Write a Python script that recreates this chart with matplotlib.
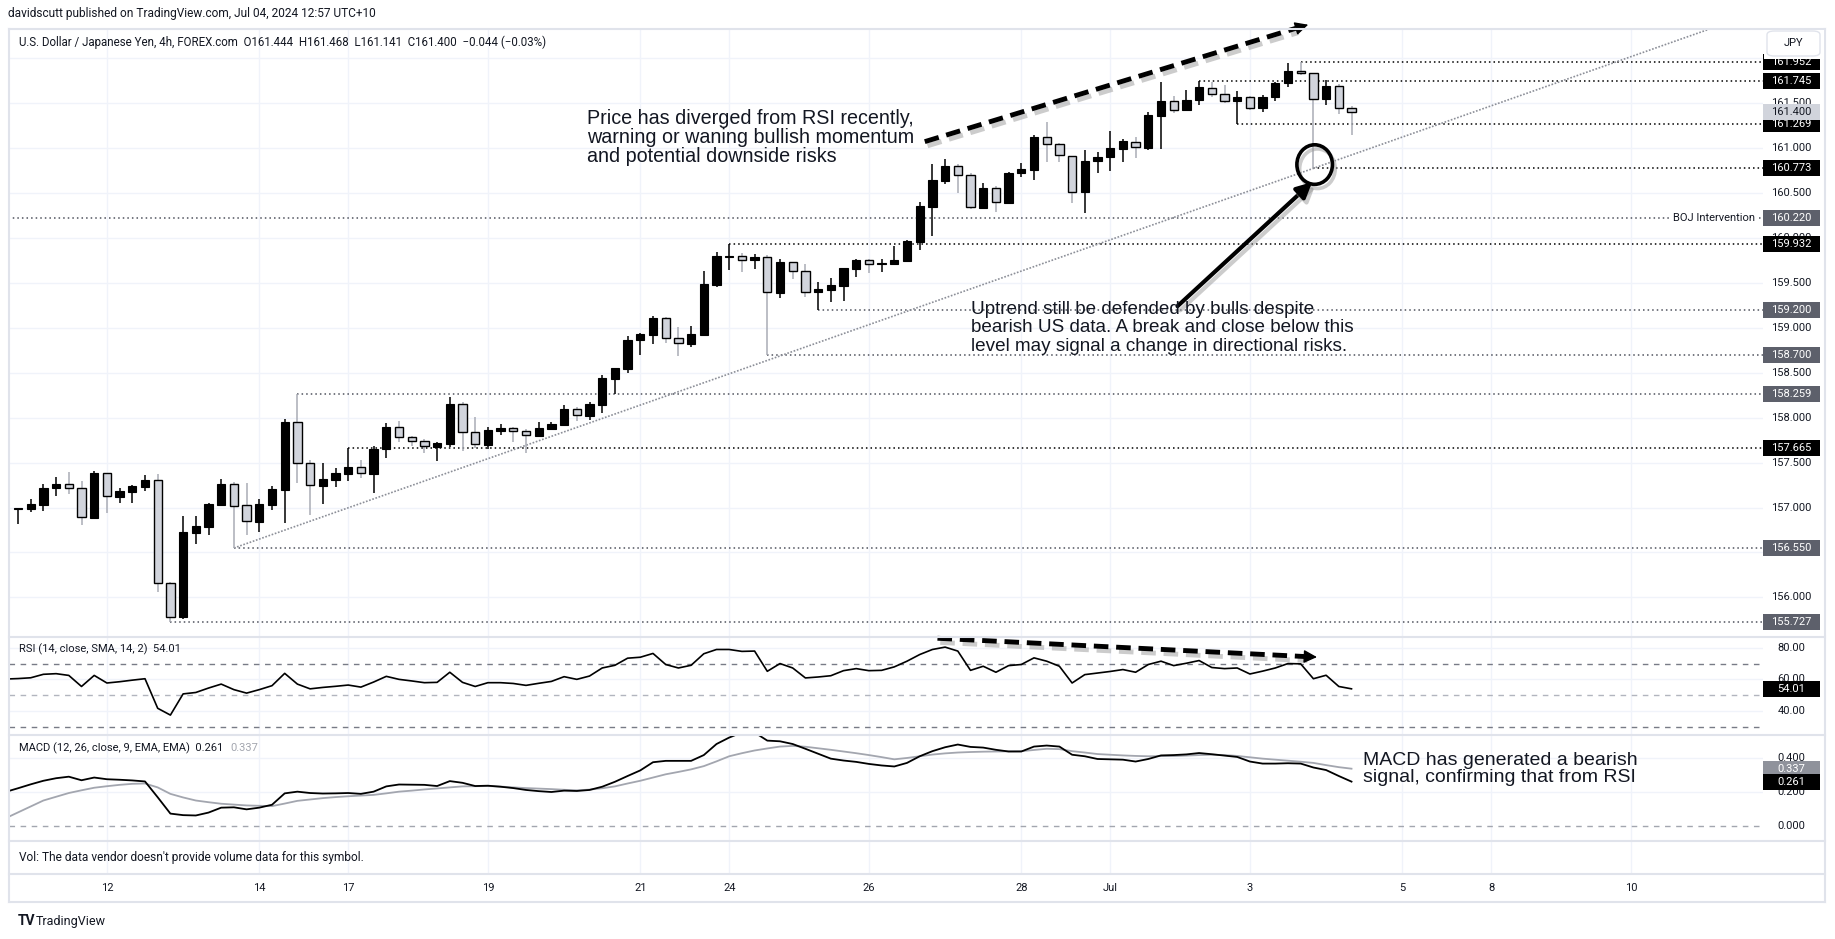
import numpy as np
import matplotlib.pyplot as plt
import matplotlib.patheffects as pe
from matplotlib.patches import Ellipse, Rectangle, FancyBboxPatch
from matplotlib.lines import Line2D

# ---- values (4h bars, bar 0 = first visible bar) ----
opens = [156.979, 156.987, 157.031, 157.213, 157.257, 157.213, 156.887, 157.383, 157.120, 157.176,
         157.231, 157.302, 156.156, 155.785, 156.720, 156.787, 157.031, 157.257, 157.024, 156.842,
         157.031, 157.198, 157.951, 157.491, 157.243, 157.310, 157.376, 157.447, 157.376, 157.647,
         157.892, 157.781, 157.736, 157.677, 157.710, 158.151, 157.836, 157.699, 157.855, 157.880,
         157.847, 157.799, 157.877, 157.921, 158.092, 158.021, 158.144, 158.433, 158.544, 158.859,
         158.922, 159.108, 158.885, 158.822, 158.922, 159.475, 159.783, 159.794, 159.749, 159.783,
         159.390, 159.731, 159.627, 159.393, 159.423, 159.464, 159.657, 159.749, 159.705, 159.709,
         159.746, 159.957, 160.346, 160.635, 160.795, 160.695, 160.335, 160.550, 160.387, 160.717,
         160.758, 161.118, 161.040, 160.914, 160.506, 160.851, 160.895, 160.991, 161.069, 160.995,
         161.359, 161.518, 161.418, 161.529, 161.670, 161.596, 161.518, 161.570, 161.440, 161.563,
         161.718, 161.852, 161.833, 161.540, 161.685, 161.444]
highs = [156.990, 157.091, 157.257, 157.335, 157.391, 157.291, 157.402, 157.383, 157.213, 157.250,
         157.357, 157.369, 156.167, 156.901, 156.901, 157.046, 157.313, 157.280, 157.272, 157.091,
         157.239, 157.981, 158.259, 157.528, 157.491, 157.436, 157.665, 157.528, 157.684, 157.936,
         157.962, 157.795, 157.758, 157.732, 158.229, 158.177, 158.007, 157.895, 157.925, 157.899,
         157.877, 157.951, 157.951, 158.140, 158.114, 158.170, 158.474, 158.555, 158.908, 158.937,
         159.126, 159.115, 159.008, 159.019, 159.634, 159.846, 159.932, 159.827, 159.816, 159.809,
         159.761, 159.731, 159.709, 159.505, 159.553, 159.668, 159.764, 159.764, 159.764, 159.912,
         159.976, 160.398, 160.821, 160.876, 160.821, 160.717, 160.606, 160.580, 160.732, 160.836,
         161.144, 161.288, 161.058, 160.914, 160.977, 160.951, 161.188, 161.095, 161.125, 161.399,
         161.729, 161.577, 161.640, 161.745, 161.737, 161.700, 161.633, 161.577, 161.585, 161.733,
         161.941, 161.952, 161.833, 161.755, 161.707, 161.468]
lows = [156.820, 156.953, 156.964, 157.128, 157.154, 156.809, 156.887, 156.942, 157.053, 157.053,
        157.187, 156.063, 155.727, 155.763, 156.597, 156.697, 157.031, 156.550, 156.697, 156.731,
        156.976, 156.830, 157.276, 156.920, 157.035, 157.232, 157.298, 157.332, 157.165, 157.554,
        157.732, 157.684, 157.610, 157.521, 157.677, 157.632, 157.658, 157.647, 157.810, 157.732,
        157.610, 157.795, 157.869, 157.914, 157.966, 157.973, 158.047, 158.259, 158.500, 158.693,
        158.822, 158.834, 158.685, 158.789, 158.922, 159.456, 159.646, 159.623, 159.657, 158.700,
        159.334, 159.546, 159.345, 159.200, 159.282, 159.301, 159.568, 159.605, 159.616, 159.697,
        159.746, 159.864, 160.024, 160.598, 160.502, 160.317, 160.320, 160.291, 160.376, 160.673,
        160.647, 160.847, 160.847, 160.391, 160.272, 160.717, 160.747, 160.847, 160.884, 160.977,
        160.984, 161.392, 161.414, 161.474, 161.570, 161.496, 161.269, 161.422, 161.403, 161.525,
        161.681, 161.811, 160.773, 161.481, 161.381, 161.141]
closes = [156.987, 157.035, 157.213, 157.257, 157.213, 156.890, 157.383, 157.124, 157.183, 157.239,
          157.302, 156.156, 155.785, 156.723, 156.790, 157.039, 157.257, 157.020, 156.846, 157.039,
          157.202, 157.951, 157.491, 157.246, 157.313, 157.380, 157.447, 157.380, 157.651, 157.892,
          157.781, 157.736, 157.680, 157.714, 158.151, 157.836, 157.703, 157.862, 157.880, 157.847,
          157.803, 157.880, 157.929, 158.092, 158.025, 158.147, 158.440, 158.548, 158.863, 158.930,
          159.108, 158.885, 158.826, 158.930, 159.486, 159.798, 159.798, 159.749, 159.783, 159.393,
          159.731, 159.627, 159.393, 159.427, 159.471, 159.660, 159.753, 159.705, 159.716, 159.749,
          159.964, 160.357, 160.639, 160.795, 160.695, 160.339, 160.550, 160.394, 160.717, 160.762,
          161.118, 161.040, 160.921, 160.506, 160.851, 160.899, 160.995, 161.077, 161.010, 161.362,
          161.518, 161.422, 161.529, 161.674, 161.600, 161.518, 161.570, 161.440, 161.563, 161.726,
          161.855, 161.829, 161.540, 161.685, 161.440, 161.400]

# indicators start one bar before the first candle (left edge of the pane)
rsi = [60.2,
       60.5, 61.0, 63.2, 63.6, 62.5, 55.5, 62.5, 57.7, 58.5, 59.5,
       60.4, 41.7, 37.4, 50.8, 51.7, 54.5, 57.0, 53.5, 51.3, 53.5,
       56.0, 63.8, 57.0, 54.0, 54.9, 55.6, 56.4, 55.1, 58.3, 61.9,
       60.0, 59.0, 57.9, 58.1, 64.5, 58.1, 55.5, 57.9, 57.9, 57.4,
       56.2, 57.5, 58.7, 61.7, 60.0, 62.1, 67.2, 68.9, 73.4, 74.0,
       76.4, 69.4, 67.2, 68.9, 76.2, 78.9, 78.9, 77.7, 77.9, 65.1,
       70.0, 67.2, 60.9, 61.5, 62.3, 65.5, 66.8, 65.5, 65.7, 67.9,
       71.5, 75.7, 78.9, 80.4, 77.9, 65.7, 68.3, 64.5, 68.7, 69.4,
       73.6, 71.5, 68.3, 57.7, 63.0, 64.0, 65.0, 66.2, 64.5, 69.4,
       71.5, 68.7, 70.2, 71.9, 67.5, 66.8, 67.2, 63.4, 65.2, 67.2,
       70.0, 69.8, 60.4, 62.6, 55.5, 54.01]
macd = [0.200,
        0.222, 0.245, 0.266, 0.281, 0.290, 0.269, 0.285, 0.275, 0.272, 0.268,
        0.262, 0.169, 0.073, 0.064, 0.062, 0.079, 0.108, 0.110, 0.098, 0.108,
        0.125, 0.192, 0.202, 0.194, 0.191, 0.192, 0.194, 0.189, 0.202, 0.233,
        0.244, 0.243, 0.242, 0.235, 0.264, 0.254, 0.235, 0.237, 0.231, 0.223,
        0.212, 0.205, 0.200, 0.208, 0.206, 0.212, 0.231, 0.260, 0.294, 0.327,
        0.375, 0.383, 0.383, 0.383, 0.417, 0.482, 0.520, 0.550, 0.550, 0.502,
        0.498, 0.482, 0.454, 0.425, 0.396, 0.385, 0.377, 0.365, 0.356, 0.350,
        0.371, 0.410, 0.440, 0.463, 0.479, 0.465, 0.461, 0.448, 0.438, 0.438,
        0.467, 0.473, 0.467, 0.419, 0.410, 0.394, 0.392, 0.390, 0.379, 0.394,
        0.415, 0.417, 0.421, 0.429, 0.422, 0.414, 0.406, 0.379, 0.367, 0.367,
        0.369, 0.367, 0.344, 0.329, 0.294, 0.261]
signal = [0.045,
          0.080, 0.115, 0.150, 0.172, 0.194, 0.210, 0.225, 0.234, 0.242, 0.248,
          0.250, 0.227, 0.189, 0.168, 0.150, 0.140, 0.131, 0.126, 0.121, 0.119,
          0.117, 0.132, 0.148, 0.156, 0.164, 0.170, 0.175, 0.179, 0.183, 0.192,
          0.202, 0.208, 0.215, 0.221, 0.227, 0.233, 0.234, 0.235, 0.232, 0.227,
          0.223, 0.220, 0.217, 0.213, 0.210, 0.214, 0.222, 0.233, 0.250, 0.266,
          0.285, 0.304, 0.318, 0.333, 0.352, 0.380, 0.410, 0.428, 0.444, 0.456,
          0.467, 0.471, 0.466, 0.457, 0.448, 0.438, 0.428, 0.417, 0.405, 0.392,
          0.400, 0.410, 0.420, 0.427, 0.432, 0.435, 0.437, 0.438, 0.439, 0.440,
          0.447, 0.454, 0.452, 0.440, 0.432, 0.423, 0.419, 0.415, 0.412, 0.410,
          0.411, 0.411, 0.414, 0.417, 0.419, 0.417, 0.412, 0.404, 0.396, 0.390,
          0.384, 0.378, 0.371, 0.358, 0.346, 0.337]

date_labels = ['12', '14', '17', '19', '21', '24', '26', '28', 'Jul', '3', '5', '8', '10']
date_bars = [7, 19, 26, 37, 49, 56, 67, 79, 86, 97, 109, 116, 127]

# horizontal levels: price, bar where the line starts, black (True) or grey label
level_prices = [161.952, 161.745, 161.269, 160.773, 160.220, 159.932,
                159.200, 158.700, 158.259, 157.665, 156.550, 155.727]
level_start = [101, 93, 96, 102, -2, 56, 63, 59, 22, 26, 17, 12]
level_dark = [True, True, True, True, False, True,
              False, False, False, True, False, False]

price_ticks = [156.0, 156.5, 157.0, 157.5, 158.0, 158.5, 159.0, 159.5, 160.0, 160.5, 161.0, 161.5]
last_price = 161.400
trend_from = (17, 156.550)
trend_to = (102, 160.773)

# ---- layout (pixels of a 1835x939 canvas) ----
W, H = 1835, 939
PL, PR = 9, 1763          # plot area left / right edge
BAR0, STEP = 18.0, 12.7   # pixel of bar 0 and bar spacing
XLIM = ((PL - BAR0) / STEP, (PR - BAR0) / STEP)
TXT = '#131722'
GRID = '#f0f3fa'
UI = ['Roboto', 'DejaVu Sans']
ANN = ['Liberation Sans', 'DejaVu Sans']

fig = plt.figure(figsize=(W / 100, H / 100), dpi=100)
fig.patch.set_facecolor('white')


def panel(top, bottom, grid=True):
    a = fig.add_axes([PL / W, 1 - bottom / H, (PR - PL) / W, (bottom - top) / H])
    a.set_xlim(*XLIM)
    a.set_axis_off()
    if grid:
        for b in date_bars:
            a.axvline(b, color=GRID, lw=1, zorder=0)
    return a


ax = panel(29, 637)
ax.set_ylim(155.56, 162.323)
ax_rsi = panel(637, 735)
ax_rsi.set_ylim(24.8, 86.8)
ax_macd = panel(735, 841)
ax_macd.set_ylim(-0.088, 0.535)
ax_vol = panel(841, 874)
ax_date = panel(874, 902, grid=False)

LBL_X = (1791.5 - PL) / (PR - PL)
BOX_W = (1820 - 1763) / (PR - PL)


def tick_label(a, val, text):
    a.text(LBL_X, val, text, transform=a.get_yaxis_transform(), ha='center', va='center',
           fontsize=8, color=TXT, family=UI, clip_on=False, zorder=5)


def value_box(a, val, text, fc, tc, z=6):
    y0, y1 = a.get_ylim()
    dh = 16 * (y1 - y0) / (a.get_position().height * H)
    a.add_patch(Rectangle((1.0, val - dh / 2), BOX_W, dh, transform=a.get_yaxis_transform(),
                          fc=fc, ec='none', clip_on=False, zorder=z))
    a.text(LBL_X, val, text, transform=a.get_yaxis_transform(), ha='center', va='center',
           fontsize=8, color=tc, family=UI, clip_on=False, zorder=z + 0.1)


# ---- main price pane ----
for t in price_ticks + [162.0]:
    ax.axhline(t, color=GRID, lw=1, zorder=0)
for t in price_ticks:
    tick_label(ax, t, f'{t:.3f}')

o, h, l, c = map(np.array, (opens, highs, lows, closes))
x = np.arange(len(o))
up = c >= o
lo = np.minimum(o, c)
bh = np.maximum(np.abs(c - o), 0.012)
ax.vlines(x[up], l[up], h[up], color='black', lw=1.1, zorder=3)
ax.vlines(x[~up], l[~up], h[~up], color='#a9acb5', lw=1.1, zorder=3)
ax.bar(x[up], bh[up], bottom=lo[up], width=0.66, color='black', edgecolor='black', lw=0.8, zorder=4)
ax.bar(x[~up], bh[~up], bottom=lo[~up], width=0.66, color='#d1d4dc', edgecolor='black', lw=1.0, zorder=4)

for p, s, dark in zip(level_prices, level_start, level_dark):
    ax.hlines(p, s, XLIM[1], colors='black' if dark else '#50535e',
              linestyles=(0, (1, 2)), lw=1.1, zorder=2)
    value_box(ax, p, f'{p:.3f}', 'black' if dark else '#5d606b', 'white')
ax.text(0.9955, 160.220, 'BOJ Intervention', transform=ax.get_yaxis_transform(), ha='right',
        va='center', fontsize=8, color=TXT, family=UI, zorder=5,
        bbox=dict(boxstyle='square,pad=0.25', fc='white', ec='none'))
value_box(ax, last_price, f'{last_price:.3f}', '#d1d4dc', TXT, z=8)

slope = (trend_to[1] - trend_from[1]) / (trend_to[0] - trend_from[0])
ax.plot([trend_from[0], 160], [trend_from[1], trend_from[1] + slope * (160 - trend_from[0])],
        color='#8c8f98', ls=(0, (1, 1)), lw=1.2, zorder=2)

shadow = [pe.SimpleLineShadow(offset=(2, -3), shadow_color='#9a9a9a', alpha=0.5), pe.Normal()]

# dashed divergence arrow on price
ax.plot([71.4, 100.6], [161.07, 162.33], color='black', ls=(0, (3, 1.6)), lw=3.5,
        clip_on=False, zorder=7, path_effects=shadow)
ax.annotate('', xy=(101.8, 162.38), xytext=(100.4, 162.32), annotation_clip=False, zorder=7,
            arrowprops=dict(arrowstyle='-|>,head_width=0.4,head_length=0.8', color='black', lw=1))

# circle + solid arrow
ax.add_patch(Ellipse((102.1, 160.815), 2.8, 0.44, fill=False, ec='black', lw=2.6, zorder=7,
                     path_effects=shadow))
ax.annotate('', xy=(101.9, 160.62), xytext=(91.3, 159.24), zorder=7,
            arrowprops=dict(arrowstyle='-|>,head_width=0.45,head_length=0.9', color='black',
                            lw=3, shrinkA=0, shrinkB=0, path_effects=shadow))

ax.text(44.8, 161.121, 'Price has diverged from RSI recently,\nwarning or waning bullish momentum\n'
        'and potential downside risks', fontsize=14.2, family=ANN, color=TXT, va='center',
        ha='left', linespacing=1.0, zorder=7)
ax.text(75.0, 159.0, 'Uptrend still be defended by bulls despite\nbearish US data. A break and close '
        'below this\nlevel may signal a change in directional risks.', fontsize=13.6, family=ANN,
        color=TXT, va='center', ha='left', linespacing=1.1, zorder=7)

# ---- RSI pane ----
xi = np.arange(-1, len(rsi) - 1)
for t in (40, 60, 80):
    ax_rsi.axhline(t, color=GRID, lw=1, zorder=0)
    tick_label(ax_rsi, t, f'{t:.2f}')
ax_rsi.axhline(70, color='#787b86', ls=(0, (4, 4)), lw=1, zorder=1)
ax_rsi.axhline(50, color='#b2b5be', ls=(0, (4, 4)), lw=1, zorder=1)
ax_rsi.axhline(30, color='#787b86', ls=(0, (4, 4)), lw=1, zorder=1)
ax_rsi.plot(xi, rsi, color='black', lw=1.2, zorder=3)
value_box(ax_rsi, rsi[-1], f'{rsi[-1]:.2f}', 'black', 'white')
ax_rsi.plot([72.4, 101.3], [86.0, 74.45], color='black', ls=(0, (3, 1.6)), lw=3.5,
            clip_on=False, zorder=7, path_effects=shadow)
ax_rsi.annotate('', xy=(102.5, 74.0), xytext=(101.2, 74.5), annotation_clip=False, zorder=7,
                arrowprops=dict(arrowstyle='-|>,head_width=0.4,head_length=0.8', color='black', lw=1))

# ---- MACD pane ----
for t in (0.2, 0.4):
    ax_macd.axhline(t, color=GRID, lw=1, zorder=0)
for t in (0.0, 0.2, 0.4):
    tick_label(ax_macd, t, f'{t:.3f}')
ax_macd.axhline(0, color='#a3a6af', ls=(0, (4, 4)), lw=1, zorder=1)
ax_macd.plot(xi, signal, color='#a3a6af', lw=1.3, zorder=2)
ax_macd.plot(xi, macd, color='black', lw=1.3, zorder=3)
value_box(ax_macd, signal[-1], f'{signal[-1]:.3f}', '#8f929b', 'white')
value_box(ax_macd, macd[-1], f'{macd[-1]:.3f}', 'black', 'white')
ax_macd.text(105.9, 0.335, 'MACD has generated a bearish\nsignal, confirming that from RSI',
             fontsize=14, family=ANN, color=TXT, va='center', ha='left', linespacing=1.0, zorder=7)

# ---- date axis ----
for b, lab in zip(date_bars, date_labels):
    ax_date.text(b, 0.5, lab, transform=ax_date.get_xaxis_transform(), ha='center', va='center',
                 fontsize=8, color=TXT, family=UI)

# ---- frame, separators, header texts ----
SEP = '#e0e3eb'
for yy in (29, 637, 735, 841, 874, 902):
    fig.add_artist(Line2D([PL / W, 1825 / W], [1 - yy / H] * 2, color=SEP, lw=1.5))
for xx in (PL, 1825):
    fig.add_artist(Line2D([xx / W] * 2, [1 - 29 / H, 1 - 902 / H], color=SEP, lw=1.5))

fig.add_artist(Rectangle((1764 / W, 1 - 59 / H), 60 / W, 29 / H, transform=fig.transFigure,
                         fc='white', ec='none', zorder=2))
fig.add_artist(FancyBboxPatch((1767 / W, 1 - 56 / H), 53 / W, 25 / H, transform=fig.transFigure,
                              boxstyle='round,pad=0,rounding_size=0.004', fc='white',
                              ec='#e0e3eb', lw=1, zorder=3))
fig.text(1793.5 / W, 1 - 43.5 / H, 'JPY', ha='center', va='center', fontsize=8, color=TXT,
         family=UI, zorder=4)

fig.text(8 / W, 1 - 14 / H, 'davidscutt published on TradingView.com, Jul 04, 2024 12:57 UTC+10',
         fontsize=8.6, color=TXT, family=UI, va='center')
fig.text(19 / W, 1 - 42 / H, 'U.S. Dollar / Japanese Yen, 4h, FOREX.com  O161.444  H161.468  '
         'L161.141  C161.400  \u22120.044 (\u22120.03%)', fontsize=8.3, color=TXT, family=UI,
         va='center')
fig.text(19 / W, 1 - 649 / H, 'RSI (14, close, SMA, 14, 2)  54.01', fontsize=8, color=TXT,
         family=UI, va='center')
t1 = fig.text(19 / W, 1 - 748 / H, 'MACD (12, 26, close, 9, EMA, EMA)  0.261', fontsize=8,
              color=TXT, family=UI, va='center')
fig.canvas.draw()
bb = t1.get_window_extent(fig.canvas.get_renderer())
fig.text((bb.x1 + 7) / W, 1 - 748 / H, '0.337', fontsize=8, color='#a3a6af', family=UI, va='center')
fig.text(19 / W, 1 - 857 / H, "Vol: The data vendor doesn't provide volume data for this symbol.",
         fontsize=8.6, color=TXT, family=UI, va='center')
fig.text(18 / W, 1 - 921 / H, 'TV', fontsize=10, fontweight='bold', color=TXT, family=UI, va='center')
fig.text(36 / W, 1 - 921 / H, 'TradingView', fontsize=9, color=TXT, family=UI, va='center')

fig.savefig('out.png', dpi=100, facecolor='white')
